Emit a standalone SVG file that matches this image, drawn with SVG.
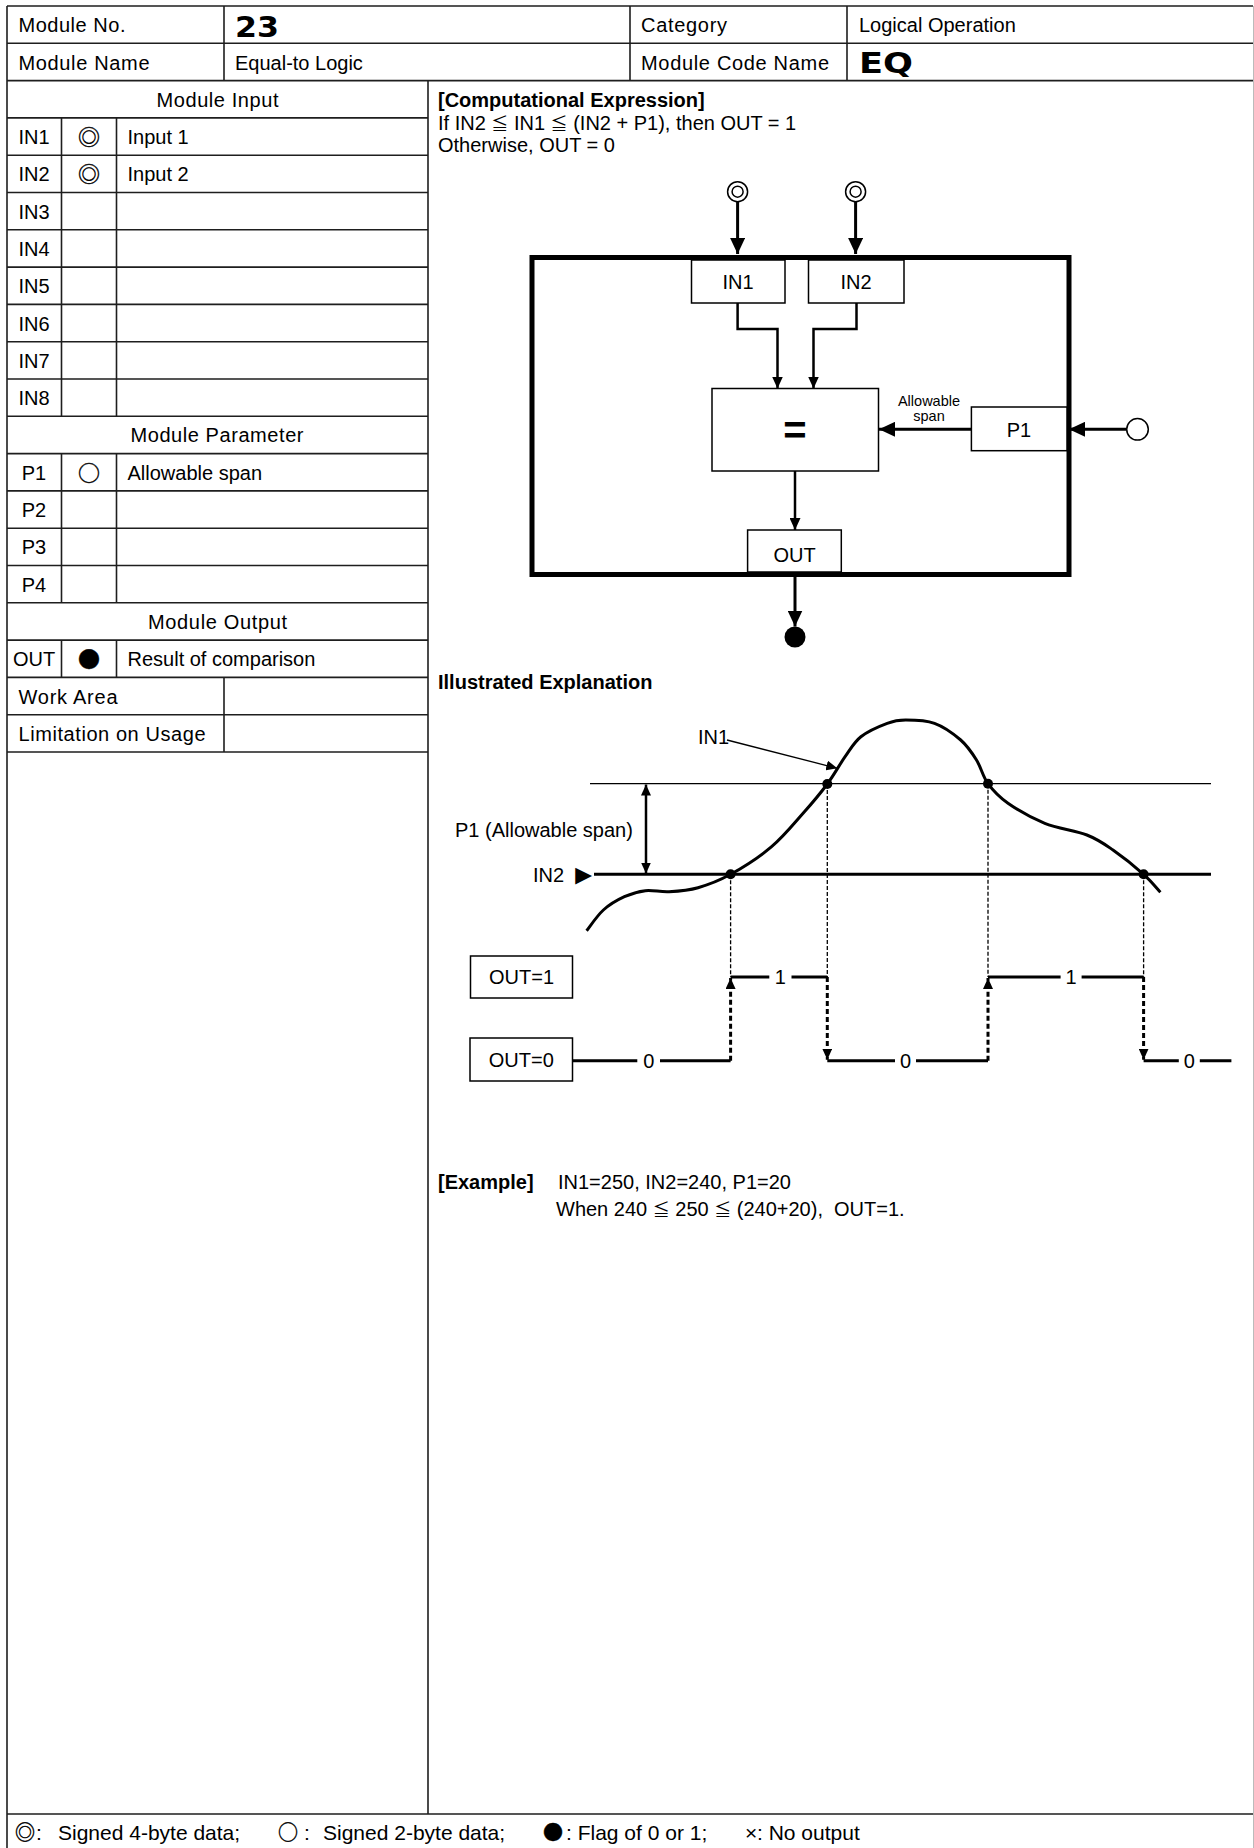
<svg xmlns="http://www.w3.org/2000/svg" width="1254" height="1848" viewBox="0 0 1254 1848">
<style>
.t{font-family:'Liberation Sans',Arial,'Noto Sans CJK JP',sans-serif;font-size:20px;fill:#000}
.b{font-weight:bold}
.c{text-anchor:middle}
.le{font-family:'Noto Sans CJK JP',sans-serif;font-size:17px}
.sym{font-family:'Noto Sans CJK JP',sans-serif;font-size:22px;text-anchor:middle;fill:#000;stroke:#000;stroke-width:0.4}
.heavy{font-family:'DejaVu Sans','Liberation Sans',sans-serif;font-weight:bold;font-size:28px;fill:#000}
.grid{stroke:#1e1e1e;stroke-width:1.6;fill:none}
.box{fill:#fff;stroke:#000;stroke-width:1.5}
.frame{fill:none;stroke:#000;stroke-width:5}
.w3{stroke:#000;stroke-width:3;fill:none}
.w25{stroke:#000;stroke-width:2.5;fill:none}
.thin{stroke:#000;stroke-width:1.3;fill:none}
.dthin{stroke:#000;stroke-width:1.3;fill:none;stroke-dasharray:4 2}
.dthick{stroke:#000;stroke-width:3;fill:none;stroke-dasharray:5 3}
.port{fill:#fff;stroke:#000;stroke-width:1.5}
.dg{font-size:20px}
.ft{font-size:21px}
</style>
<defs>
<marker id="aL" viewBox="0 0 16 15" refX="16" refY="7.5" markerWidth="16" markerHeight="15" markerUnits="userSpaceOnUse" orient="auto"><path d="M0,0L16,7.5L0,15z" fill="#000"/></marker>
<marker id="aM" viewBox="0 0 12 11" refX="12" refY="5.5" markerWidth="12" markerHeight="11" markerUnits="userSpaceOnUse" orient="auto"><path d="M0,0L12,5.5L0,11z" fill="#000"/></marker>
<marker id="aS" viewBox="0 0 11 10" refX="11" refY="5" markerWidth="11" markerHeight="10" markerUnits="userSpaceOnUse" orient="auto-start-reverse"><path d="M0,0L11,5L0,10z" fill="#000"/></marker>
</defs>
<rect x="0" y="0" width="1254" height="1848" fill="#fff"/>

<g id="table">
<path class="grid" d="M7,6H1253M7,43.3H1253M7,80.6H1253M7,117.9H428M7,155.2H428M7,192.5H428M7,229.8H428M7,267.1H428M7,304.4H428M7,341.7H428M7,379H428M7,416.3H428M7,453.6H428M7,490.9H428M7,528.2H428M7,565.5H428M7,602.8H428M7,640.1H428M7,677.4H428M7,714.7H428M7,752H428M7,1814H1253"/>
<path class="grid" d="M7,6V1848M224,6V80.6M630,6V80.6M847,6V80.6M428,80.6V1814M224,677.4V752M61.5,117.9V416.3M116.5,117.9V416.3M61.5,453.6V602.8M116.5,453.6V602.8M61.5,640.1V677.4M116.5,640.1V677.4"/>
<line x1="1253.5" y1="6" x2="1253.5" y2="1848" stroke="#bbb" stroke-width="1"/>
<text class="t" x="18.5" y="32" textLength="107">Module No.</text>
<text class="heavy" x="235" y="36.5" textLength="44" lengthAdjust="spacingAndGlyphs">23</text>
<text class="t" x="641" y="32" textLength="86">Category</text>
<text class="t" x="859" y="32">Logical Operation</text>
<text class="t" x="18.5" y="69.5" textLength="131">Module Name</text>
<text class="t" x="235" y="69.5">Equal-to Logic</text>
<text class="t" x="641" y="69.5" textLength="188">Module Code Name</text>
<text class="heavy" x="859" y="72.5" textLength="54" lengthAdjust="spacingAndGlyphs">EQ</text>
<text class="t" x="156.5" y="106.8" textLength="122">Module Input</text>
<text class="t c" x="34" y="144">IN1</text><text class="sym" x="89" y="145">◎</text><text class="t" x="127.5" y="144">Input 1</text>
<text class="t c" x="34" y="181.3">IN2</text><text class="sym" x="89" y="182.3">◎</text><text class="t" x="127.5" y="181.3">Input 2</text>
<text class="t c" x="34" y="218.6">IN3</text>
<text class="t c" x="34" y="255.9">IN4</text>
<text class="t c" x="34" y="293.2">IN5</text>
<text class="t c" x="34" y="330.5">IN6</text>
<text class="t c" x="34" y="367.8">IN7</text>
<text class="t c" x="34" y="405.1">IN8</text>
<text class="t" x="130.5" y="442.4" textLength="173">Module Parameter</text>
<text class="t c" x="34" y="479.7">P1</text><text class="sym" x="89" y="480.7">○</text><text class="t" x="127.5" y="479.7">Allowable span</text>
<text class="t c" x="34" y="517">P2</text>
<text class="t c" x="34" y="554.3">P3</text>
<text class="t c" x="34" y="591.6">P4</text>
<text class="t" x="148" y="628.9" textLength="139">Module Output</text>
<text class="t c" x="34" y="666.2">OUT</text><text class="sym" x="89" y="667.2">●</text><text class="t" x="127.5" y="666.2">Result of comparison</text>
<text class="t" x="18.5" y="703.5" textLength="99">Work Area</text>
<text class="t" x="18.5" y="740.8" textLength="187">Limitation on Usage</text>
</g>

<g id="footer">
<text class="sym" x="25" y="1840" style="font-size:20px">◎</text>
<text class="t ft" x="36" y="1840">:</text>
<text class="t ft" x="58" y="1840">Signed 4-byte data;</text>
<text class="sym" x="288" y="1840" style="font-size:20px">○</text>
<text class="t ft" x="304" y="1840">:</text>
<text class="t ft" x="323" y="1840">Signed 2-byte data;</text>
<text class="sym" x="553" y="1840" style="font-size:20px">●</text>
<text class="t ft" x="566" y="1840">: Flag of 0 or 1;</text>
<text class="t ft" x="745" y="1840">×</text>
<text class="t ft" x="757" y="1840">: No output</text>
</g>

<g id="expression">
<text class="t b" x="438" y="106.7">[Computational Expression]</text>
<text class="t" x="438" y="130">If IN2 <tspan class="le">≦</tspan> IN1 <tspan class="le">≦</tspan> (IN2 + P1), then OUT = 1</text>
<text class="t" x="438" y="152.3">Otherwise, OUT = 0</text>
</g>

<g id="module-frame"><rect class="frame" x="532" y="257.5" width="537" height="317"/></g>

<g id="connectors">
<line class="w3" x1="737.6" y1="201" x2="737.6" y2="254" marker-end="url(#aL)"/>
<line class="w3" x1="855.6" y1="201" x2="855.6" y2="254" marker-end="url(#aL)"/>
<polyline class="w25" points="737.6,303 737.6,329 777.5,329 777.5,388.5" marker-end="url(#aM)"/>
<polyline class="w25" points="856.5,303 856.5,329 813.5,329 813.5,388.5" marker-end="url(#aM)"/>
<line class="w3" x1="971.4" y1="429.3" x2="879" y2="429.3" marker-end="url(#aL)"/>
<line class="w3" x1="1126.5" y1="429.3" x2="1069" y2="429.3" marker-end="url(#aL)"/>
<line class="w25" x1="795" y1="471" x2="795" y2="530" marker-end="url(#aM)"/>
<line class="w3" x1="795" y1="577" x2="795" y2="626.5" marker-end="url(#aL)"/>
</g>

<g id="node-in1-port"><circle class="port" cx="737.6" cy="191.7" r="10"/><circle class="port" cx="737.6" cy="191.7" r="5.5"/></g>
<g id="node-in2-port"><circle class="port" cx="855.6" cy="191.7" r="10"/><circle class="port" cx="855.6" cy="191.7" r="5.5"/></g>
<g id="node-in1"><rect class="box" x="691.5" y="260" width="93.5" height="43"/><text class="t c" x="738" y="289">IN1</text></g>
<g id="node-in2"><rect class="box" x="808.5" y="260" width="95.5" height="43"/><text class="t c" x="856" y="289">IN2</text></g>
<g id="node-eq"><rect class="box" x="712" y="388.5" width="166.5" height="82.5"/><text class="t b c" x="795" y="444" style="font-size:40px">=</text></g>
<g id="node-p1"><rect class="box" x="971.4" y="407" width="95.6" height="43.7"/><text class="t c" x="1019" y="437">P1</text></g>
<g id="label-span"><text class="t c" x="929" y="406" style="font-size:14.5px">Allowable</text><text class="t c" x="929" y="420.5" style="font-size:14.5px">span</text></g>
<g id="node-p1-port"><circle class="port" cx="1137.5" cy="429.3" r="10.8"/></g>
<g id="node-out"><rect class="box" x="747.6" y="530" width="93.7" height="42"/><text class="t c" x="794.5" y="562">OUT</text></g>
<g id="node-out-port"><circle cx="795" cy="637" r="10.5" fill="#000"/></g>

<g id="illustration">
<text class="t b" x="438" y="689.3">Illustrated Explanation</text>
<line class="thin" x1="590" y1="783.7" x2="1211" y2="783.7"/>
<line class="w3" x1="594" y1="874.3" x2="1211" y2="874.3"/>
<line class="w25" x1="646" y1="784.5" x2="646" y2="873.5" marker-start="url(#aS)" marker-end="url(#aS)"/>
<text class="t" x="455" y="836.5">P1 (Allowable span)</text>
<text class="t" x="533" y="881.5">IN2 <tspan style="font-size:28px" dy="2">►</tspan></text>
<text class="t" x="698" y="743.7">IN1</text>
<line class="thin" x1="727" y1="740" x2="837.3" y2="768.3" marker-end="url(#aS)"/>
<path class="w3" d="M586.6,930.7C589.4,927.25 597.1,915.67 603.4,910C609.7,904.33 617.4,899.92 624.4,896.7C631.4,893.48 637.95,891.53 645.4,890.7C652.85,889.87 660.33,892.2 669.1,891.7C677.87,891.2 687.75,890.6 698,887.7C708.25,884.8 718.33,881.13 730.6,874.3C742.87,867.47 759.52,856.87 771.6,846.7C783.68,836.53 793.82,823.75 803.1,813.3C812.38,802.85 820.3,793.43 827.3,784C834.3,774.57 839.5,764.58 845.1,756.7C850.7,748.82 853.88,742.27 860.9,736.7C867.92,731.13 879.75,726.08 887.2,723.3C894.65,720.52 897.72,720 905.6,720C913.48,720 925.32,719.97 934.5,723.3C943.68,726.63 953.7,733.88 960.7,740C967.7,746.12 971.95,752.72 976.5,760C981.05,767.28 982.75,776.48 988,783.7C993.25,790.92 998.53,796.7 1008,803.3C1017.47,809.9 1031.65,818.02 1044.8,823.3C1057.95,828.58 1075.53,830.55 1086.9,835C1098.27,839.45 1103.55,843.45 1113,850C1122.45,856.55 1135.7,867.25 1143.6,874.3C1151.5,881.35 1157.6,889.3 1160.4,892.3"/>
<circle cx="730.6" cy="874.3" r="5" fill="#000"/>
<circle cx="827.3" cy="784" r="5" fill="#000"/>
<circle cx="988" cy="783.7" r="5" fill="#000"/>
<circle cx="1143.6" cy="874.3" r="5" fill="#000"/>
<path class="dthin" d="M730.6,874.3V977M827.3,784V977M988,783.7V977M1143.6,874.3V977"/>
<line class="dthick" x1="730.6" y1="1060.7" x2="730.6" y2="978" marker-end="url(#aS)"/>
<line class="dthick" x1="827.3" y1="977" x2="827.3" y2="1059.7" marker-end="url(#aS)"/>
<line class="dthick" x1="988" y1="1060.7" x2="988" y2="978" marker-end="url(#aS)"/>
<line class="dthick" x1="1143.6" y1="977" x2="1143.6" y2="1059.7" marker-end="url(#aS)"/>
<path class="w3" d="M730.6,977H769.3M791.5,977H827.3M988,977H1060.6M1081.6,977H1143.6M572.5,1060.7H637.3M660,1060.7H730.6M827.3,1060.7H895M916,1060.7H988M1143.6,1060.7H1178.8M1199.8,1060.7H1231.4"/>
<text class="t c dg" x="780.4" y="984.2">1</text>
<text class="t c dg" x="1071" y="984.2">1</text>
<text class="t c dg" x="648.7" y="1068">0</text>
<text class="t c dg" x="905.5" y="1068">0</text>
<text class="t c dg" x="1189.3" y="1068">0</text>
<rect class="box" x="470.5" y="956" width="102" height="42"/>
<text class="t c" x="521.5" y="984">OUT=1</text>
<rect class="box" x="470" y="1038" width="102.5" height="43"/>
<text class="t c" x="521.3" y="1067">OUT=0</text>
</g>

<g id="example">
<text class="t b" x="438" y="1189">[Example]</text>
<text class="t" x="558" y="1189">IN1=250, IN2=240, P1=20</text>
<text class="t" x="556" y="1215.5" xml:space="preserve">When 240 <tspan class="le">≦</tspan> 250 <tspan class="le">≦</tspan> (240+20),  OUT=1.</text>
</g>
</svg>
